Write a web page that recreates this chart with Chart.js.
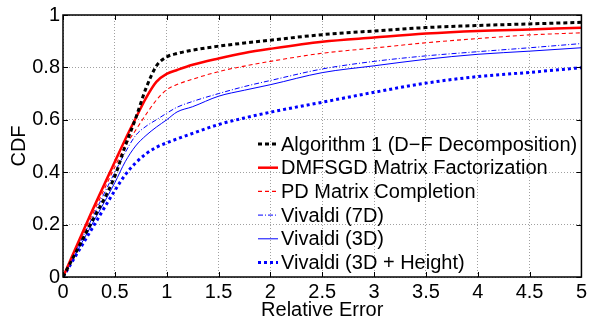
<!DOCTYPE html>
<html>
<head>
<meta charset="utf-8">
<script src="https://cdn.jsdelivr.net/npm/chart.js@4/dist/chart.umd.min.js"></script>
<style>
  html, body { margin: 0; padding: 0; background: #fff; }
  #wrap { width: 590px; height: 322px; }
</style>
</head>
<body>
<div id="wrap"><canvas id="c"></canvas></div>
<script>
// relative error samples (x) and CDF values
const errorX      = [0, 0.25, 0.5, 0.6, 0.7, 0.8, 0.9, 1, 1.1, 1.25, 1.5, 1.75, 2, 2.5, 3, 3.5, 4, 4.5, 5];
const alg1Cdf     = [0, 0.19, 0.385, 0.50, 0.605, 0.72, 0.805, 0.84, 0.853, 0.866, 0.881, 0.893, 0.904, 0.925, 0.939, 0.952, 0.96, 0.966, 0.972];
const dmfsgdCdf   = [0, 0.225, 0.44, 0.525, 0.605, 0.683, 0.745, 0.775, 0.79, 0.81, 0.834, 0.855, 0.871, 0.898, 0.914, 0.929, 0.939, 0.945, 0.951];
const pdCdf       = [0, 0.21, 0.42, 0.50, 0.56, 0.62, 0.675, 0.715, 0.735, 0.755, 0.784, 0.805, 0.823, 0.854, 0.874, 0.894, 0.91, 0.924, 0.932];
const vivaldi7dCdf = [0, 0.20, 0.40, 0.475, 0.54, 0.575, 0.60, 0.625, 0.648, 0.67, 0.70, 0.727, 0.75, 0.794, 0.823, 0.844, 0.86, 0.875, 0.891];
const vivaldi3dCdf = [0, 0.18, 0.36, 0.44, 0.50, 0.54, 0.572, 0.6, 0.63, 0.65, 0.69, 0.713, 0.734, 0.78, 0.806, 0.831, 0.85, 0.862, 0.875];
const vivaldiHCdf  = [0, 0.165, 0.33, 0.39, 0.435, 0.47, 0.495, 0.512, 0.527, 0.548, 0.582, 0.607, 0.629, 0.667, 0.705, 0.74, 0.765, 0.781, 0.799];

const seriesNames = [
  'Algorithm 1 (D\u2212F Decomposition)',
  'DMFSGD Matrix Factorization',
  'PD Matrix Completion',
  'Vivaldi (7D)',
  'Vivaldi (3D)',
  'Vivaldi (3D + Height)'
];
const xTicks = [0, 0.5, 1, 1.5, 2, 2.5, 3, 3.5, 4, 4.5, 5];
const yTicks = [0, 0.2, 0.4, 0.6, 0.8, 1];

const FONT = 'Liberation Sans, Arial, Helvetica, sans-serif';
const fmt = v => String(Math.round(v * 10) / 10);

const toPoints = ys => errorX.map((x, i) => ({ x: x, y: ys[i] }));

const makeSet = (label, ys, color, width, dash) => ({
  label: label,
  data: toPoints(ys),
  borderColor: color,
  borderWidth: width,
  borderDash: dash,
  pointRadius: 0,
  fill: false,
  cubicInterpolationMode: 'monotone',
});

const datasets = [
  makeSet(seriesNames[0], alg1Cdf, '#000000', 3, [4, 3]),
  makeSet(seriesNames[1], dmfsgdCdf, '#ff0000', 2.5, []),
  makeSet(seriesNames[2], pdCdf, '#ff0000', 1.1, [4, 3]),
  makeSet(seriesNames[3], vivaldi7dCdf, '#0000ff', 1, [5, 2, 1, 2]),
  makeSet(seriesNames[4], vivaldi3dCdf, '#0000ff', 1, []),
  makeSet(seriesNames[5], vivaldiHCdf, '#0000ff', 3, [3, 3]),
];

// box, inward ticks and legend inside the plot
const framePlugin = {
  id: 'frame',
  afterDraw(chart) {
    const ctx = chart.ctx;
    const a = chart.chartArea;
    const xs = chart.scales.x, ys = chart.scales.y;
    ctx.save();
    ctx.strokeStyle = '#000';
    ctx.lineWidth = 1;
    ctx.setLineDash([]);
    ctx.beginPath();
    xTicks.forEach(v => {
      const px = Math.round(xs.getPixelForValue(v)) + 0.5;
      ctx.moveTo(px, a.bottom); ctx.lineTo(px, a.bottom - 5);
      ctx.moveTo(px, a.top); ctx.lineTo(px, a.top + 5);
    });
    yTicks.forEach(v => {
      const py = Math.round(ys.getPixelForValue(v)) + 0.5;
      ctx.moveTo(a.left, py); ctx.lineTo(a.left + 5, py);
      ctx.moveTo(a.right, py); ctx.lineTo(a.right - 5, py);
    });
    ctx.stroke();
    ctx.lineWidth = 1.5;
    ctx.strokeRect(a.left, a.top, a.right - a.left, a.bottom - a.top);

    // legend
    const lx = 258, ly = 144, step = 23.7;
    ctx.font = '20px ' + FONT;
    ctx.textBaseline = 'middle';
    ctx.fillStyle = '#000';
    chart.data.datasets.forEach((ds, i) => {
      const y = ly + i * step;
      ctx.strokeStyle = ds.borderColor;
      ctx.lineWidth = ds.borderWidth;
      ctx.setLineDash(ds.borderDash);
      ctx.beginPath();
      ctx.moveTo(lx, y); ctx.lineTo(lx + 20, y);
      ctx.stroke();
      ctx.fillText(ds.label, lx + 23, y + 1);
    });
    ctx.restore();
  }
};

new Chart(document.getElementById('c'), {
  type: 'line',
  data: { datasets: datasets },
  options: {
    responsive: true,
    maintainAspectRatio: false,
    animation: false,
    layout: { padding: { top: 10, right: 6, left: 0, bottom: 0 } },
    plugins: {
      legend: { display: false },
      tooltip: { enabled: false },
    },
    scales: {
      x: {
        type: 'linear',
        min: 0, max: 5,
        afterFit: scale => { scale.height = 45; },
        afterBuildTicks: scale => { scale.ticks = xTicks.map(v => ({ value: v })); },
        grid: { color: '#a0a0a0', drawTicks: false },
        border: { display: false, dash: [1, 2] },
        ticks: { font: { family: FONT, size: 20 }, color: '#000', padding: 3, maxRotation: 0, callback: fmt },
        title: { display: true, text: 'Relative Error', font: { family: FONT, size: 20 }, color: '#000', padding: { top: 0, bottom: 0 } },
      },
      y: {
        min: 0, max: 1,
        afterFit: scale => { scale.width = 63; },
        afterBuildTicks: scale => { scale.ticks = yTicks.map(v => ({ value: v })); },
        grid: { color: '#a0a0a0', drawTicks: false },
        border: { display: false, dash: [1, 2] },
        ticks: { font: { family: FONT, size: 20 }, color: '#000', padding: 3, callback: fmt },
        title: { display: true, text: 'CDF', font: { family: FONT, size: 20 }, color: '#000', padding: { top: 7, bottom: 0 } },
      },
    },
  },
  plugins: [framePlugin],
});
</script>
</body>
</html>
